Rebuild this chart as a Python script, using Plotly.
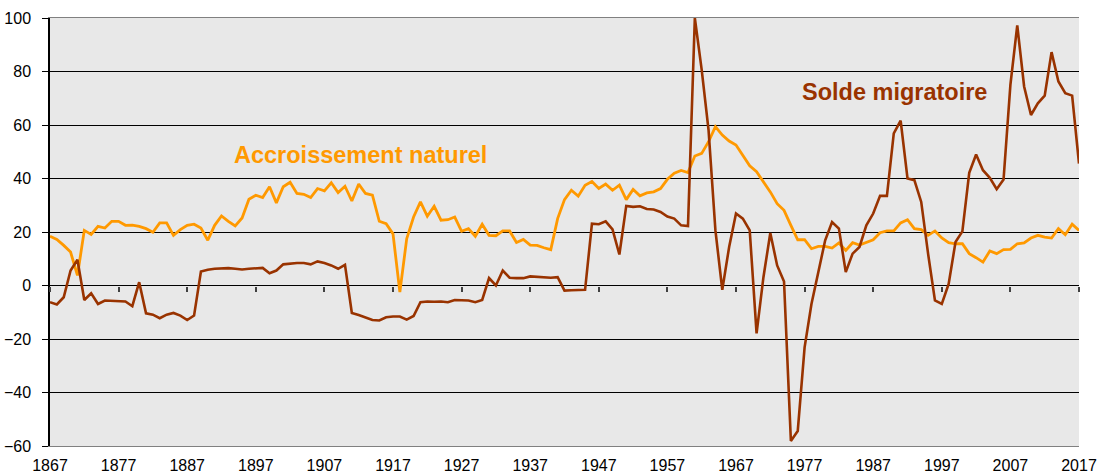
import plotly.graph_objects as go

years = list(range(1867, 2018))

accroissement_naturel = [
    18.4, 17.2, 15.0, 12.5, 3.75, 20.6, 19.1, 22.1, 21.5, 24.0,
    24.0, 22.5, 22.6, 22.1, 21.25, 19.9, 23.4, 23.4, 18.75, 20.9,
    22.5, 22.9, 21.5, 16.9, 22.5, 26.0, 24.0, 22.25, 25.25, 32.25,
    33.75, 32.9, 36.9, 30.9, 36.9, 38.6, 34.4, 34.1, 32.9, 36.25,
    35.4, 38.4, 34.75, 37.1, 31.6, 37.9, 34.4, 33.75, 24.0, 23.1,
    19.3, -2.5, 17.5, 25.6, 31.25, 25.9, 29.6, 24.4, 24.6, 25.6,
    20.25, 21.25, 18.4, 22.9, 18.75, 18.6, 20.4, 20.4, 16.1, 17.25,
    15.1, 15.0, 14.1, 13.4, 25.0, 32.1, 35.6, 33.4, 37.5, 38.9,
    36.25, 37.9, 35.6, 37.5, 32.1, 35.9, 33.5, 34.6, 35.0, 36.25,
    39.7, 42.0, 43.0, 42.25, 48.4, 49.4, 53.75, 59.4, 56.25, 54.0,
    52.5, 48.4, 44.75, 42.5, 38.75, 35.0, 30.6, 28.1, 22.5, 17.1,
    17.1, 13.75, 14.6, 14.6, 14.0, 15.9, 13.1, 16.0, 15.1, 16.25,
    17.1, 19.75, 20.4, 20.4, 23.4, 24.6, 21.25, 20.9, 18.75, 20.4,
    17.75, 16.0, 15.6, 15.6, 11.9, 10.4, 8.75, 12.9, 11.9, 13.4,
    13.5, 15.6, 15.9, 17.75, 18.75, 18.1, 17.75, 21.25, 19.0, 22.9,
    20.6,
]

solde_migratoire = [
    -6.25, -7.1, -4.4, 5.6, 9.6, -5.4, -2.9, -6.9, -5.6, -5.75,
    -6.1, -6.0, -7.75, 1.25, -10.4, -10.9, -12.25, -10.9, -10.25, -11.25,
    -12.9, -11.25, 5.25, 5.9, 6.25, 6.5, 6.5, 6.25, 6.0, 6.25,
    6.4, 6.6, 4.6, 5.6, 7.9, 8.25, 8.4, 8.4, 7.9, 9.0,
    8.4, 7.5, 6.25, 7.75, -10.25, -11.0, -11.9, -12.9, -13.1, -11.9,
    -11.6, -11.6, -12.75, -11.4, -6.25, -6.0, -6.1, -6.0, -6.25, -5.4,
    -5.5, -5.6, -6.25, -5.4, 2.75, 0.0, 5.6, 2.9, 2.75, 2.75,
    3.4, 3.25, 3.25, 2.9, 3.1, -1.9, -1.75, -1.6, -1.6, 23.1,
    22.9, 24.0, 21.0, 11.6, 29.75, 29.4, 29.6, 28.6, 28.4, 27.5,
    25.8, 25.0, 22.5, 22.25, 100.0, 80.6, 58.1, 20.6, -1.6, 14.4,
    26.9, 25.0, 20.6, -17.9, 3.1, 19.6, 7.5, 1.5, -58.1, -54.4,
    -23.1, -6.9, 4.4, 16.9, 23.75, 21.25, 5.0, 11.9, 14.4, 22.5,
    26.9, 33.5, 33.5, 56.9, 61.6, 40.0, 39.4, 31.25, 11.9, -5.6,
    -6.9, 0.6, 16.25, 20.25, 42.1, 49.0, 43.1, 40.25, 36.0, 39.6,
    75.0, 97.25, 74.4, 63.75, 68.1, 71.0, 87.25, 76.25, 71.9, 71.0,
    45.6,
]

x_tick_labels = [str(y) for y in range(1867, 2018, 10)]
y_tick_values = list(range(-60, 101, 20))

label_naturel = "Accroissement naturel"
label_solde = "Solde migratoire"

ORANGE = "#FF9900"
BROWN = "#993300"
FONT = "Liberation Sans, Arial, sans-serif"

fig = go.Figure()

fig.add_trace(go.Scatter(
    x=years, y=accroissement_naturel, mode="lines",
    line=dict(color=ORANGE, width=2.8), name=label_naturel,
    showlegend=False,
))
fig.add_trace(go.Scatter(
    x=years, y=solde_migratoire, mode="lines",
    line=dict(color=BROWN, width=2.6), name=label_solde,
    showlegend=False,
))
# invisible trace to carry the tick marks drawn on the zero line
fig.add_trace(go.Scatter(
    x=years, y=solde_migratoire, mode="lines", xaxis="x2", yaxis="y",
    line=dict(color="rgba(0,0,0,0)", width=0), showlegend=False,
    hoverinfo="skip",
))

fig.add_annotation(
    x=1893.6, y=48.8, xref="x", yref="y", text=f"<b>{label_naturel}</b>",
    showarrow=False, xanchor="left", yanchor="middle",
    font=dict(family=FONT, size=23.5, color=ORANGE),
)
fig.add_annotation(
    x=1976.3, y=72.4, xref="x", yref="y", text=f"<b>{label_solde}</b>",
    showarrow=False, xanchor="left", yanchor="middle",
    font=dict(family=FONT, size=23.5, color=BROWN),
)

fig.update_layout(
    width=1106, height=476,
    margin=dict(l=50, r=27, t=18, b=30),
    paper_bgcolor="white",
    plot_bgcolor="#E8E8E8",
    font=dict(family=FONT, size=16, color="black"),
    xaxis=dict(
        range=[1867, 2017],
        tickmode="array",
        tickvals=[int(t) for t in x_tick_labels],
        ticktext=x_tick_labels,
        showgrid=False, zeroline=False, automargin=False,
        showline=True, linecolor="#808080", linewidth=1, mirror=True,
        ticks="", ticklabelstandoff=5,
        tickfont=dict(family=FONT, size=16, color="black"),
    ),
    xaxis2=dict(
        range=[1867, 2017], overlaying="x", anchor="free", position=60 / 160,
        side="bottom", automargin=False,
        tickmode="array", tickvals=[int(t) for t in x_tick_labels],
        showticklabels=False, ticks="outside", ticklen=5,
        tickcolor="#404040", tickwidth=1.5,
        showgrid=False, zeroline=False, showline=False,
    ),
    yaxis=dict(
        range=[-60, 100], automargin=False,
        tickmode="array", tickvals=y_tick_values,
        showgrid=True, gridcolor="black", gridwidth=1,
        zeroline=False,
        showline=True, linecolor="black", linewidth=1.5,
        ticks="outside", ticklen=6, tickcolor="black",
        ticklabelstandoff=8,
        tickfont=dict(family=FONT, size=16, color="black"),
    ),
)

fig.write_html(
    "out.html",
    config={"displayModeBar": False},
    post_script="document.body.style.margin='0px';document.body.style.overflow='hidden';",
)
